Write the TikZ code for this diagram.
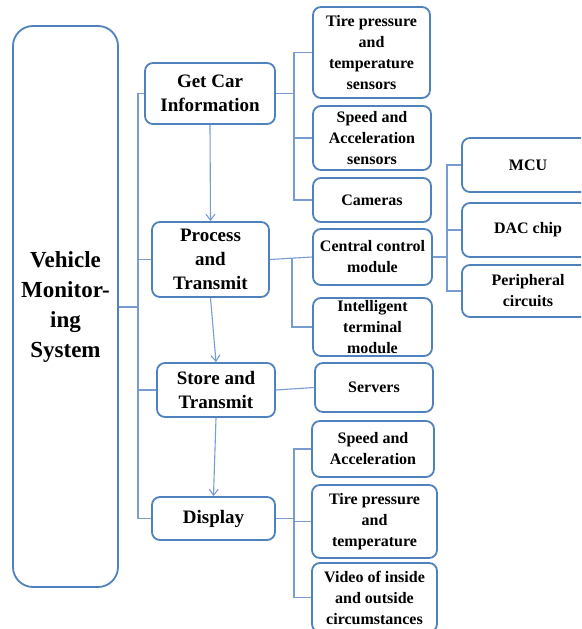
\documentclass[tikz,border=0pt]{standalone}
\usepackage{fontspec}
\setmainfont{Liberation Serif}
\usepackage{xcolor}
\usetikzlibrary{arrows.meta}
\definecolor{boxblue}{RGB}{79,129,189}
\definecolor{lineblue}{RGB}{120,155,210}
\begin{document}
\begin{tikzpicture}[x=1pt, y=-1pt,
    blk/.style={draw=boxblue, line width=1.8pt, rounded corners=8pt, align=center, inner sep=1pt, font=\bfseries\fontsize{16}{21}\selectfont},
    midblk/.style={blk, font=\bfseries\fontsize{19}{24}\selectfont},
    link/.style={draw=lineblue, line width=1.1pt},
    flow/.style={link, -{Straight Barb[length=6pt, width=9pt]}}]
    \useasboundingbox (0,0) rectangle (581,629);
    \clip (0,0) rectangle (581,629);

    % Main system
    \node[blk, rounded corners=20pt, minimum width=105pt, minimum height=561pt, font=\bfseries\fontsize{23}{30}\selectfont] (system) at (65.5,306.5) {Vehicle\\Monitor-\\ing\\System};

    % Stages
    \node[midblk, minimum width=130pt, minimum height=61pt] (getinfo) at (210,93.5) {Get Car\\Information};
    \node[midblk, minimum width=117pt, minimum height=75pt] (process) at (210.5,259.5) {Process\\and\\Transmit};
    \node[midblk, minimum width=118pt, minimum height=54pt] (store) at (216,390) {Store and\\Transmit};
    \node[midblk, minimum width=123pt, minimum height=43pt] (display) at (213.5,518.5) {Display};

    % Get car information
    \node[blk, minimum width=117pt, minimum height=91pt] (tiresens) at (371.5,52.5) {Tire pressure\\and\\temperature\\sensors};
    \node[blk, minimum width=118pt, minimum height=64pt] (speedsens) at (372,138) {Speed and\\Acceleration\\sensors};
    \node[blk, minimum width=118pt, minimum height=44pt] (cameras) at (372,200) {Cameras};

    % Process and transmit
    \node[blk, minimum width=119pt, minimum height=56pt] (central) at (372.5,257) {Central control\\module};
    \node[blk, minimum width=119pt, minimum height=58pt] (terminal) at (372.5,327) {Intelligent\\terminal\\module};
    \node[blk, minimum width=132pt, minimum height=54pt] (mcu) at (528,165) {MCU};
    \node[blk, minimum width=132pt, minimum height=54pt] (dac) at (528,230) {DAC chip};
    \node[blk, minimum width=132pt, minimum height=52pt] (periph) at (528,291) {Peripheral\\circuits};

    % Store and transmit
    \node[blk, minimum width=118pt, minimum height=49pt] (servers) at (374,387.5) {Servers};

    % Display
    \node[blk, minimum width=122pt, minimum height=56pt] (speedshow) at (373,449) {Speed and\\Acceleration};
    \node[blk, minimum width=125pt, minimum height=73pt] (tireshow) at (374.5,521.5) {Tire pressure\\and\\temperature};
    \node[blk, minimum width=125pt, minimum height=69pt] (video) at (374.5,597.5) {Video of inside\\and outside\\circumstances};

    % Bus points
    \coordinate (sysbus) at (138,307);
    \coordinate (infobus) at (294,93.5);
    \coordinate (procbus) at (292,258);
    \coordinate (ctrlbus) at (447,257);
    \coordinate (dispbus) at (294,518.5);

    % Tree lines
    \draw[link] (system.east |- sysbus) -- (sysbus);
    \draw[link] (getinfo.west) -| (sysbus);
    \draw[link] (process.west) -| (sysbus);
    \draw[link] (store.west) -| (sysbus);
    \draw[link] (display.west) -| (sysbus);

    \draw[link] (getinfo.east) -- (infobus);
    \draw[link] (tiresens.west) -| (infobus);
    \draw[link] (speedsens.west) -- (speedsens.west -| infobus);
    \draw[link] (cameras.west) -| (infobus);

    \draw[link] (process.east) -- (central.west);
    \draw[link] (terminal.west) -| (procbus);

    \draw[link] (central.east) -- (ctrlbus);
    \draw[link] (mcu.west) -| (ctrlbus);
    \draw[link] (dac.west) -- (dac.west -| ctrlbus);
    \draw[link] (periph.west) -| (ctrlbus);

    \draw[link] (store.east) -- (servers.west);

    \draw[link] (display.east) -- (dispbus);
    \draw[link] (speedshow.west) -| (dispbus);
    \draw[link] (tireshow.west) -- (tireshow.west -| dispbus);
    \draw[link] (video.west) -| (dispbus);

    % Arrows
    \draw[flow] (getinfo.south) -- (process.north);
    \draw[flow] (process.south) -- (store.north);
    \draw[flow] (store.south) -- (display.north);
\end{tikzpicture}
\end{document}
